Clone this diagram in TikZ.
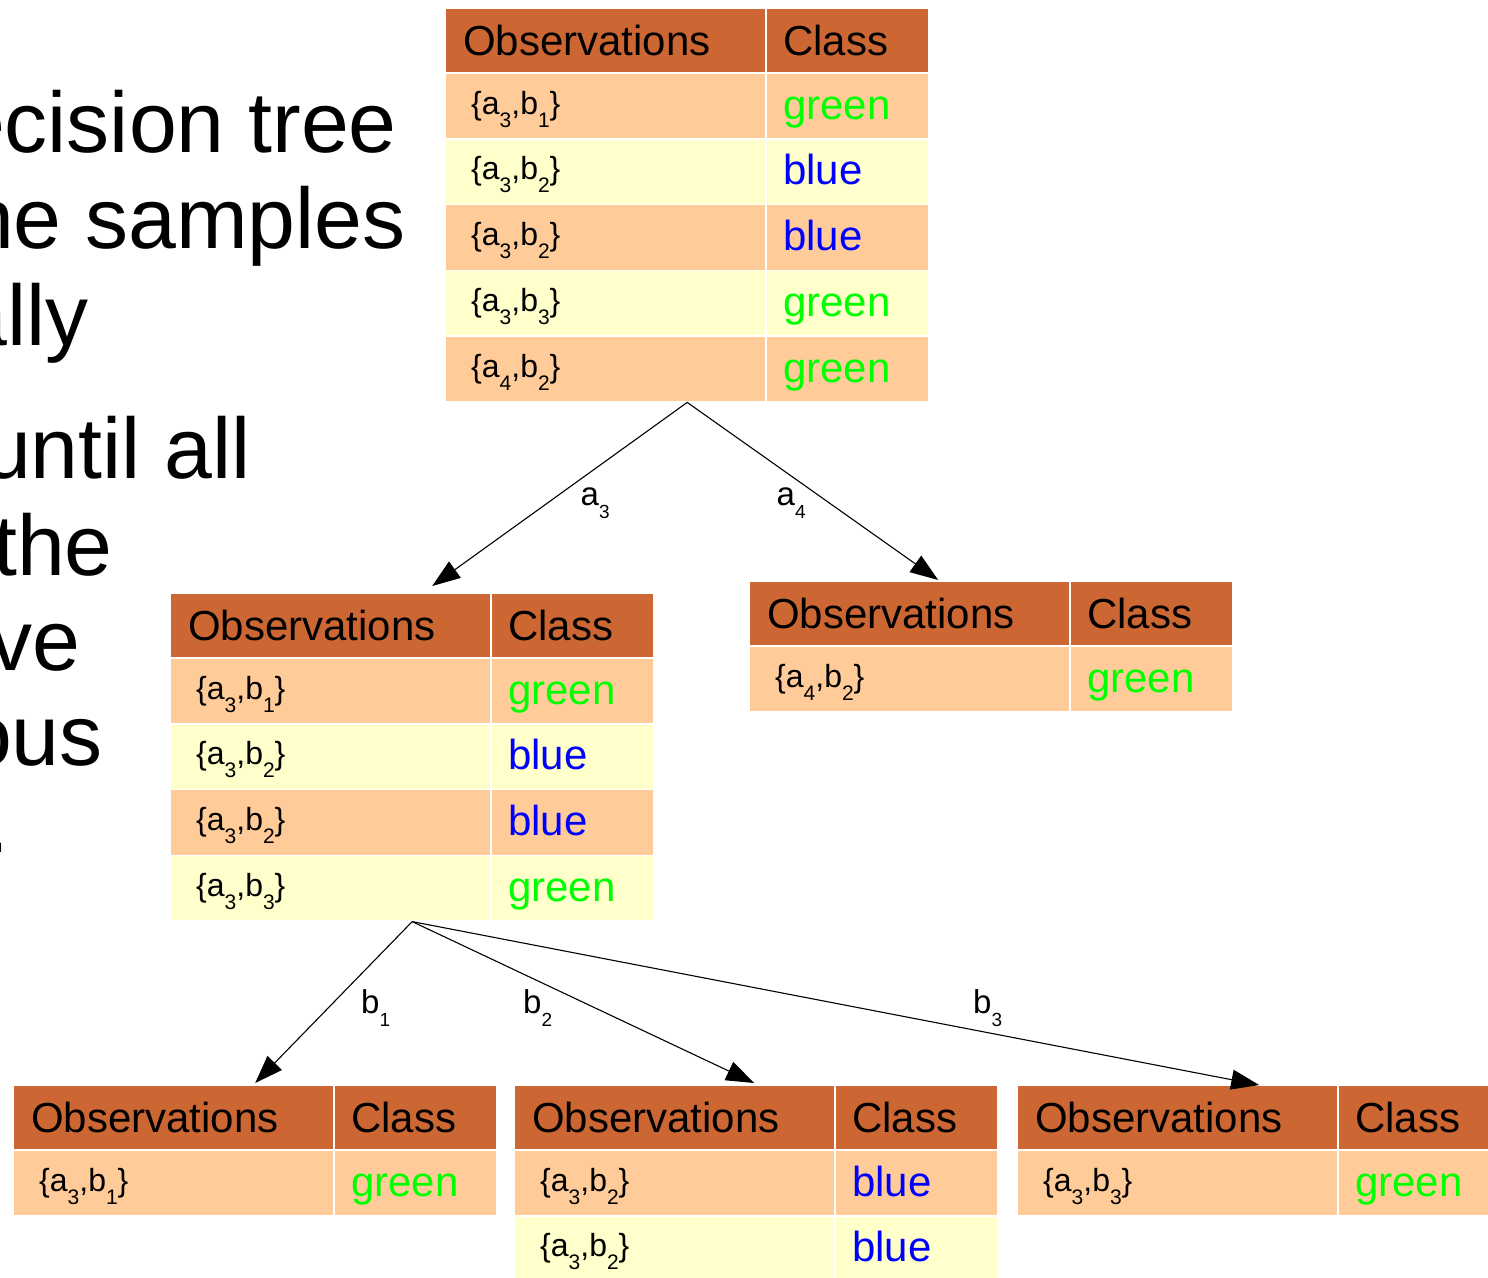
\documentclass[tikz,border=0pt]{standalone}
\usepackage{fontspec}
\setmainfont{Liberation Sans}
\usetikzlibrary{arrows.meta,calc}

\definecolor{hdrcol}{RGB}{204,102,51}
\definecolor{rowA}{RGB}{255,204,153}
\definecolor{rowB}{RGB}{255,255,204}
\definecolor{clsgreen}{RGB}{0,255,0}
\definecolor{clsblue}{RGB}{0,0,255}

\newcommand\osub[1]{\raisebox{-13pt}{\fontsize{21}{21}\selectfont #1}}
\newcommand\lsub[1]{\raisebox{-13pt}{\fontsize{19}{19}\selectfont #1}}
\newcommand\ob[2]{\{a\osub{#1},b\osub{#2}\}}

\tikzset{
  bodytxt/.style={font=\fontsize{86}{86}\selectfont, anchor=base east, inner sep=0pt},
  hdrtxt/.style={font=\fontsize{42}{42}\selectfont, anchor=base west, inner sep=0pt},
  obstxt/.style={font=\fontsize{32}{32}\selectfont, anchor=base west, inner sep=0pt},
  clstxt/.style={font=\fontsize{42}{42}\selectfont, anchor=base west, inner sep=0pt},
  lbltxt/.style={font=\fontsize{33}{33}\selectfont, anchor=base west, inner sep=0pt},
  cellline/.style={draw=white, line width=1.5pt},
  tblbox/.style={inner sep=0pt, minimum width=484pt, anchor=north west},
  conn/.style={line width=1.1pt, -{Triangle[length=28pt,width=20pt]}},
}

% header: name, x, y
\newcommand\thdr[3]{%
  \fill[hdrcol] (#2,#3) rectangle ++(484,65);
  \draw[cellline] (#2,#3) rectangle ++(484,65) (#2+321,#3) -- ++(0,65);
  \node[hdrtxt] (#1-ho) at (#2+18,#3+47) {Observations};
  \node[hdrtxt] (#1-hc) at (#2+338,#3+47) {Class};
}
% row: name, x, y, fill, obs, class colour, class text
\newcommand\trow[7]{%
  \fill[#4] (#2,#3) rectangle ++(484,65.8);
  \draw[cellline] (#2,#3) rectangle ++(484,65.8) (#2+321,#3) -- ++(0,65.8);
  \node[obstxt] (#1-o) at (#2+26,#3+41) {#5};
  \node[clstxt, text=#6] (#1-c) at (#2+338,#3+46) {#7};
}

\begin{document}
\begin{tikzpicture}[x=1pt, y=-1pt]
\fill[white] (0,0) rectangle (1488,1277);
\useasboundingbox (0,0) rectangle (1488,1277);

% left-hand text (cut off by the page edge)
\node[bodytxt] (l1) at (397,152) {ecision tree};
\node[bodytxt] (l2) at (406,248) {he samples};
\node[bodytxt] (l3) at (89,345) {ally};
\node[bodytxt] (l4) at (251,478) {until all};
\node[bodytxt] (l5) at (113,575) {the};
\node[bodytxt] (l6) at (81,670) {ve};
\node[bodytxt] (l7) at (103,765) {ous};
\node[bodytxt] (l8) at (10,852) {.};

% table boxes (for connectors)
\node[tblbox, minimum height=394pt] (T0) at (445,8) {};
\node[tblbox, minimum height=328.2pt] (T1) at (170,593) {};
\node[tblbox, minimum height=130.8pt] (T2) at (749,581) {};
\node[tblbox, minimum height=130.8pt] (T3) at (13,1085) {};
\node[tblbox, minimum height=196.6pt] (T4) at (514,1085) {};
\node[tblbox, minimum height=130.8pt] (T5) at (1017,1085) {};

% root table
\thdr{t0}{445}{8}
\trow{t0r1}{445}{73}{rowA}{\ob{3}{1}}{clsgreen}{green}
\trow{t0r2}{445}{138.8}{rowB}{\ob{3}{2}}{clsblue}{blue}
\trow{t0r3}{445}{204.6}{rowA}{\ob{3}{2}}{clsblue}{blue}
\trow{t0r4}{445}{270.4}{rowB}{\ob{3}{3}}{clsgreen}{green}
\trow{t0r5}{445}{336.2}{rowA}{\ob{4}{2}}{clsgreen}{green}

% a3 table
\thdr{t1}{170}{593}
\trow{t1r1}{170}{658}{rowA}{\ob{3}{1}}{clsgreen}{green}
\trow{t1r2}{170}{723.8}{rowB}{\ob{3}{2}}{clsblue}{blue}
\trow{t1r3}{170}{789.6}{rowA}{\ob{3}{2}}{clsblue}{blue}
\trow{t1r4}{170}{855.4}{rowB}{\ob{3}{3}}{clsgreen}{green}

% a4 table
\thdr{t2}{749}{581}
\trow{t2r1}{749}{646}{rowA}{\ob{4}{2}}{clsgreen}{green}

% b1 table
\thdr{t3}{13}{1085}
\trow{t3r1}{13}{1150}{rowA}{\ob{3}{1}}{clsgreen}{green}

% b2 table
\thdr{t4}{514}{1085}
\trow{t4r1}{514}{1150}{rowA}{\ob{3}{2}}{clsblue}{blue}
\trow{t4r2}{514}{1215.8}{rowB}{\ob{3}{2}}{clsblue}{blue}

% b3 table
\thdr{t5}{1017}{1085}
\trow{t5r1}{1017}{1150}{rowA}{\ob{3}{3}}{clsgreen}{green}

% connectors
\draw[conn] (T0.south) -- ($(T1.north)+(20,-7)$);
\draw[conn] (T0.south) -- ($(T2.north)+(-53,-1)$);
\draw[conn] (T1.south) -- ($(T3.north)+(0,-2)$);
\draw[conn] (T1.south) -- ($(T4.north)+(-2,-2)$);
\draw[conn] (T1.south) -- (T5.north);

% edge labels
\node[lbltxt] (la3) at (580.5,505) {a\lsub{3}};
\node[lbltxt] (la4) at (776.5,505) {a\lsub{4}};
\node[lbltxt] (lb1) at (361,1013) {b\lsub{1}};
\node[lbltxt] (lb2) at (523,1013) {b\lsub{2}};
\node[lbltxt] (lb3) at (973,1013) {b\lsub{3}};
\end{tikzpicture}
\end{document}
